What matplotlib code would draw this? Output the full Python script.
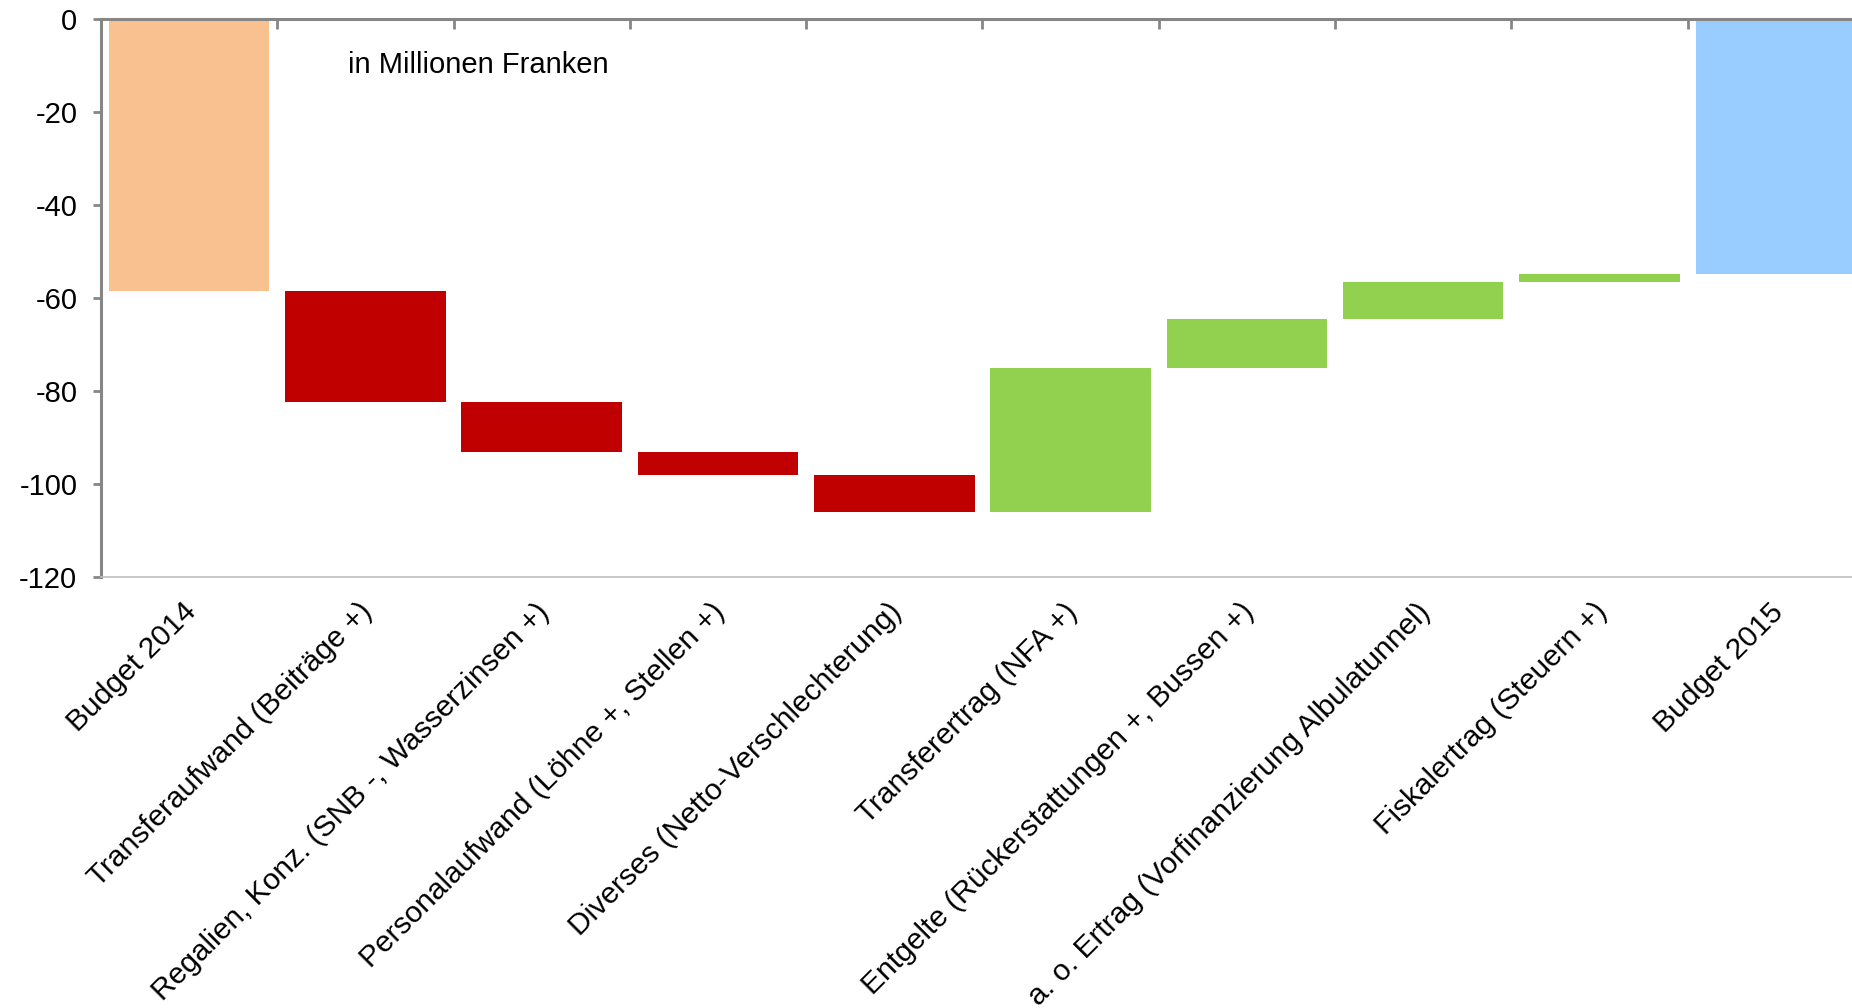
import matplotlib as mpl
import matplotlib.pyplot as plt
import matplotlib.transforms as mtransforms
import numpy as np

plt.rcParams['font.family'] = ['Liberation Sans', 'DejaVu Sans']

CATEGORIES = [
    'Budget 2014',
    'Transferaufwand (Beiträge +)',
    'Regalien, Konz. (SNB -, Wasserzinsen +)',
    'Personalaufwand (Löhne +, Stellen +)',
    'Diverses (Netto-Verschlechterung)',
    'Transferertrag (NFA +)',
    'Entgelte (Rückerstattungen +, Bussen +)',
    'a. o. Ertrag (Vorfinanzierung Albulatunnel)',
    'Fiskalertrag (Steuern +)',
    'Budget 2015',
]
START_VALUE = -58.4
DELTAS = [-23.9, -10.8, -4.9, -8.0, 31.0, 10.5, 8.0, 1.7]
END_VALUE = -54.8

Y_TICKS = [0, -20, -40, -60, -80, -100, -120]

ORANGE = '#F9C18F'
RED = '#C00000'
GREEN = '#92D050'
BLUE = '#99CCFF'
AXIS_GREY = '#868686'


def main():
    fig = plt.figure(figsize=(18.52, 10.08), dpi=100)
    ax = fig.add_axes([0.0545, 0.4276, 0.952, 0.5531])

    x = np.arange(len(CATEGORIES))
    running = START_VALUE + np.concatenate([[0], np.cumsum(DELTAS)])
    width = 0.91

    # start and end totals hang from zero
    ax.bar(x[0], START_VALUE, width=width, color=ORANGE)
    ax.bar(x[-1], END_VALUE, width=width, color=BLUE)

    # steps in between
    for i, d in enumerate(DELTAS):
        c = RED if d < 0 else GREEN
        ax.bar(x[i + 1], d, bottom=running[i], width=width, color=c)

    ax.set_xlim(-0.5, len(CATEGORIES) - 0.5)
    ax.set_ylim(-120, 0)
    ax.set_yticks(Y_TICKS)
    ax.set_yticklabels([str(t) for t in Y_TICKS])

    ax.set_xticks(x)
    ax.set_xticklabels(CATEGORIES)
    ax.set_xticks(np.arange(0.5, len(CATEGORIES) - 0.5), minor=True)

    for side in ('top', 'left'):
        ax.spines[side].set_color(AXIS_GREY)
        ax.spines[side].set_linewidth(2.2)
    ax.spines['bottom'].set_color('#BFBFBF')
    ax.spines['bottom'].set_linewidth(1.2)
    ax.spines['right'].set_visible(False)

    ax.tick_params(axis='y', direction='out', length=6, width=2, color=AXIS_GREY,
                   labelsize=21, pad=11)
    ax.tick_params(axis='x', which='major', bottom=True, top=False, length=0,
                   labelsize=21.5, pad=15)
    ax.tick_params(axis='x', which='minor', bottom=False, top=True, direction='in',
                   length=7, width=2, color=AXIS_GREY)
    shift = mtransforms.ScaledTranslation(-5 / 72, 0, fig.dpi_scale_trans)
    for lab in ax.get_xticklabels():
        lab.set_rotation(45)
        lab.set_ha('right')
        lab.set_va('top')
        lab.set_rotation_mode('anchor')
        lab.set_transform(lab.get_transform() + shift)

    ax.text(0.9, -9.8, 'in Millionen Franken', fontsize=21, ha='left', va='center')

    fig.savefig('out.png', dpi=100)


if __name__ == '__main__': main()
